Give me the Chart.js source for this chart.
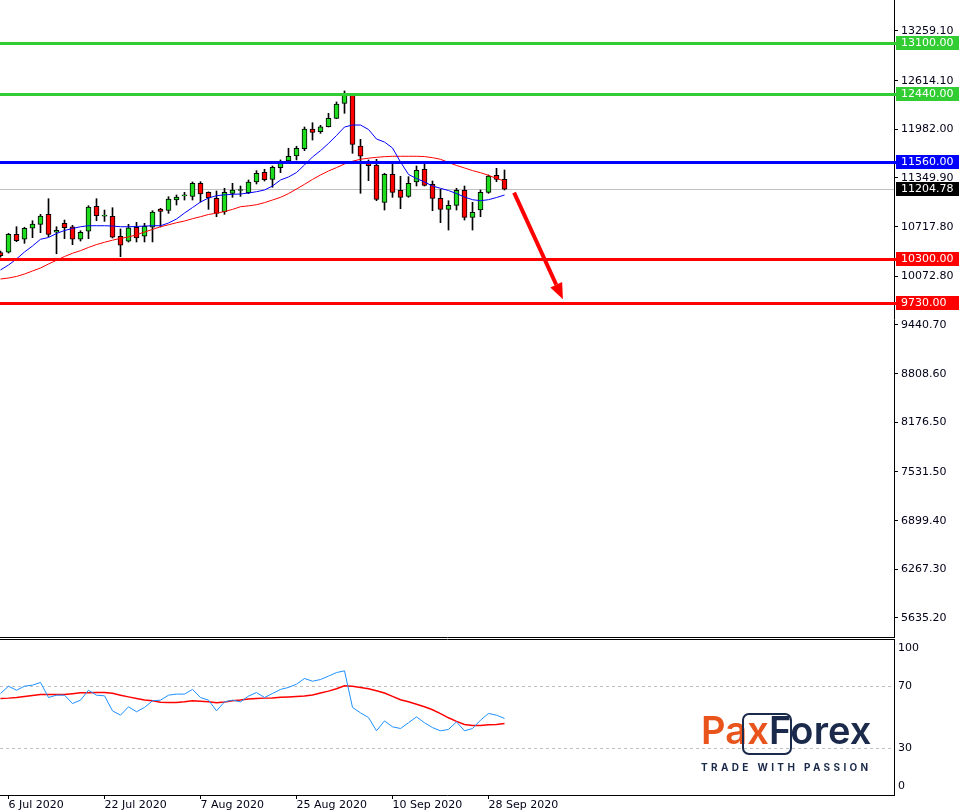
<!DOCTYPE html>
<html>
<head>
<meta charset="utf-8">
<script src="https://cdn.jsdelivr.net/npm/chart.js@4.4.0/dist/chart.umd.min.js"></script>
<style>
    body { margin: 0; background: #fff; }
    #wrap { position: relative; width: 961px; height: 812px; overflow: hidden; background: #fff; }
    #priceChart { position: absolute; left: 0; top: 0; }
    #rsiChart { position: absolute; left: 0; top: 639px; }
    #logo { position: absolute; left: 701px; top: 707px; color: #1b2a4a; font-family: Inter, sans-serif; }
    #logo .name { font-size: 38px; font-weight: 600; line-height: 46px; letter-spacing: 0.15px; white-space: nowrap; }
    #logo .pax { color: #e8541c; }
    #logo .tag { font-size: 10px; font-weight: 700; letter-spacing: 3.35px; line-height: 12px; margin-top: 8px; white-space: nowrap; }
    #logo .box { position: absolute; left: 41px; top: 6px; width: 46px; height: 38px; border: 2.5px solid #1b2a4a; border-radius: 7px; }
</style>
</head>
<body>
<div id="wrap">
    <canvas id="priceChart" width="961" height="638"></canvas>
    <canvas id="rsiChart" width="961" height="173"></canvas>
    <div id="logo">
        <div class="box"></div>
        <div class="name"><span class="pax">Pax</span>Forex</div>
        <div class="tag">TRADE WITH PASSION</div>
    </div>
</div>
<script>
// daily candles, 3 Jul - 30 Sep 2020
const opens = [10380, 10385, 10618, 10554, 10697, 10748, 10878, 10645, 10761, 10717, 10554, 10658, 10982, 10855, 10852, 10593,
    10528, 10710, 10593, 10710, 10947, 10930, 11064, 11118, 11112, 11281, 11164, 11086, 10912, 11151, 11188, 11159,
    11298, 11424, 11333, 11484, 11571, 11636, 11731, 11986, 11951, 12016, 12125, 12320, 12428, 11766, 11558, 11519,
    11034, 11398, 11190, 11112, 11298, 11463, 11268, 11086, 10943, 10995, 11190, 10839, 10934, 11164, 11385, 11333];
const highs = [10400, 10630, 10717, 10710, 10795, 10878, 11081, 10717, 10804, 10735, 10665, 10990, 11081, 10934, 10964, 10688,
    10748, 10774, 10761, 10925, 10956, 11107, 11129, 11164, 11298, 11302, 11170, 11181, 11216, 11281, 11246, 11324,
    11445, 11463, 11506, 11584, 11736, 11762, 12012, 12068, 12034, 12190, 12337, 12480, 12450, 11852, 11584, 11593,
    11411, 11549, 11372, 11367, 11506, 11558, 11311, 11203, 11055, 11216, 11246, 11034, 11194, 11389, 11476, 11454];
const lows = [10320, 10375, 10522, 10502, 10575, 10640, 10588, 10366, 10562, 10484, 10531, 10562, 10795, 10787, 10571, 10328,
    10518, 10519, 10519, 10519, 10714, 10891, 10999, 11064, 11064, 11038, 10943, 10847, 10878, 11099, 11112, 11146,
    11272, 11311, 11229, 11419, 11541, 11584, 11705, 11843, 11930, 12012, 12120, 12190, 11671, 11151, 11315, 11055,
    10934, 11099, 10951, 11099, 11246, 11246, 10925, 10770, 10674, 10934, 10804, 10674, 10847, 11151, 11302, 11194];
const closes = [10340, 10618, 10535, 10697, 10752, 10856, 10618, 10670, 10704, 10554, 10645, 10973, 10860, 10862, 10580, 10476,
    10704, 10571, 10722, 10908, 10917, 11077, 11103, 11126, 11281, 11142, 11090, 10891, 11164, 11194, 11192, 11298,
    11411, 11328, 11489, 11562, 11632, 11736, 11986, 11943, 12016, 12125, 12311, 12428, 11787, 11632, 11510, 11073,
    11398, 11164, 11099, 11281, 11450, 11255, 11086, 10943, 10995, 11190, 10839, 10904, 11164, 11376, 11333, 11204.78];

// moving averages on price
const maFast = [10155, 10220, 10298, 10389, 10467, 10554, 10577, 10629, 10668, 10694, 10717, 10730, 10730, 10730, 10726, 10717,
    10717, 10720, 10726, 10730, 10730, 10765, 10817, 10895, 10966, 11038, 11090, 11120, 11131, 11138, 11142, 11155,
    11172, 11194, 11246, 11324, 11363, 11421, 11519, 11623, 11705, 11799, 11902, 12012, 12038, 12038, 11980, 11856,
    11817, 11740, 11558, 11396, 11343, 11298, 11246, 11216, 11187, 11148, 11103, 11068, 11055, 11068, 11096, 11129];
const maSlow = [10038, 10051, 10071, 10103, 10142, 10181, 10233, 10281, 10330, 10372, 10406, 10448, 10485, 10515, 10542, 10566,
    10583, 10613, 10648, 10682, 10717, 10742, 10769, 10791, 10821, 10847, 10876, 10893, 10914, 10942, 10977, 10988,
    11003, 11030, 11064, 11099, 11147, 11207, 11268, 11331, 11389, 11441, 11485, 11532, 11568, 11593, 11607, 11618,
    11627, 11632, 11632, 11632, 11632, 11628, 11614, 11593, 11551, 11513, 11480, 11446, 11419, 11385, 11343, 11311];

// RSI and its signal line
const rsiValues = [65.5, 70.2, 67.6, 70.2, 70.9, 72.6, 62.9, 64.4, 64.4, 59.0, 61.2, 67.6, 64.4, 64.0, 54.3, 51.5,
    56.9, 53.7, 56.5, 60.8, 61.2, 64.4, 65.1, 65.1, 68.1, 62.9, 61.2, 54.3, 60.1, 61.2, 60.1, 63.8,
    66.1, 62.9, 65.5, 68.1, 69.4, 71.5, 75.2, 73.4, 74.5, 76.7, 79.0, 80.1, 56.5, 53.0, 50.0, 41.4,
    47.8, 44.0, 42.9, 46.6, 50.4, 46.6, 43.5, 41.4, 42.3, 47.2, 41.4, 42.9, 48.3, 52.6, 51.5, 49.4];
const rsiSignal = [62.3, 62.5, 62.9, 63.5, 64.2, 64.8, 64.8, 64.8, 64.8, 65.3, 65.9, 66.0, 66.1, 66.1, 65.6, 64.4,
    63.3, 62.3, 61.3, 60.8, 59.9, 59.7, 59.7, 60.1, 60.8, 60.5, 60.1, 59.5, 60.0, 60.8, 61.3, 62.0,
    62.2, 62.5, 62.6, 63.0, 63.3, 63.5, 63.8, 64.5, 65.8, 67.0, 68.6, 70.5, 70.1, 69.4, 68.5, 67.3,
    65.8, 63.6, 61.5, 60.1, 58.6, 56.9, 55.0, 52.5, 49.8, 47.5, 45.5, 44.8, 44.9, 45.4, 45.5, 46.1];

// axes
const priceTicks = [13259.10, 12614.10, 11982.00, 11349.90, 10717.80, 10072.80, 9440.70, 8808.60, 8176.50, 7531.50, 6899.40, 6267.30, 5635.20];
const dateTickIdx = [1, 13, 25, 37, 49, 61];
const dateLabels = ['6 Jul 2020', '22 Jul 2020', '7 Aug 2020', '25 Aug 2020', '10 Sep 2020', '28 Sep 2020'];
const rsiTickValues = [94.6, 70, 30, 5.4];
const rsiTickLabels = ['100', '70', '30', '0'];
const rsiLevels = [70, 30];

// horizontal levels and the forecast arrow
const levelValues = [13100, 12440, 11560, 10300, 9730];
const levelColors = ['#32CD32', '#32CD32', '#0000FF', '#FF0000', '#FF0000'];
const lastPrice = 11204.78;
const arrowFrom = [64.2, 11159];
const arrowTo = [70.3, 9774];

const xMin = -0.0625, xMax = 111.6875;
const priceMin = 5375.4, priceMax = 13661.7;
const axisFont = '11px "DejaVu Sans", sans-serif';

Chart.defaults.font.family = '"DejaVu Sans", sans-serif';
Chart.defaults.font.size = 11;
Chart.defaults.color = '#000';

function toXY(values) {
    return values.map((v, i) => ({ x: i, y: v }));
}

function fitRightAxis(scale) {
    scale.width = 67;
    scale.paddingTop = 0;
    scale.paddingBottom = 0;
}

function drawArrow(ctx, x1, y1, x2, y2) {
    const ang = Math.atan2(y2 - y1, x2 - x1);
    const head = 16, half = 6.5;
    const bx = x2 - head * Math.cos(ang), by = y2 - head * Math.sin(ang);
    ctx.save();
    ctx.strokeStyle = '#FF0000';
    ctx.fillStyle = '#FF0000';
    ctx.lineWidth = 4;
    ctx.beginPath();
    ctx.moveTo(x1, y1);
    ctx.lineTo(bx, by);
    ctx.stroke();
    ctx.beginPath();
    ctx.moveTo(x2, y2);
    ctx.lineTo(bx + half * Math.sin(ang), by - half * Math.cos(ang));
    ctx.lineTo(bx - half * Math.sin(ang), by + half * Math.cos(ang));
    ctx.closePath();
    ctx.fill();
    ctx.restore();
}

function priceBox(ctx, y, bg, text) {
    const yy = Math.round(y);
    ctx.fillStyle = bg;
    ctx.fillRect(896, yy - 7, 63, 14);
    ctx.fillStyle = '#fff';
    ctx.font = axisFont;
    ctx.textBaseline = 'middle';
    ctx.textAlign = 'left';
    ctx.fillText(text, 901, yy + 0.5);
}

const pricePlugin = {
    id: 'pricePlugin',
    beforeDatasetsDraw(chart) {
        const { ctx, chartArea, scales } = chart;
        const y = Math.round(scales.y.getPixelForValue(lastPrice)) + 0.5;
        ctx.save();
        ctx.strokeStyle = '#C0C0C0';
        ctx.lineWidth = 1;
        ctx.beginPath();
        ctx.moveTo(chartArea.left, y);
        ctx.lineTo(chartArea.right, y);
        ctx.stroke();
        ctx.restore();
    },
    afterDatasetsDraw(chart) {
        const { ctx, chartArea, scales } = chart;
        ctx.save();
        levelValues.forEach((v, i) => {
            const y = Math.round(scales.y.getPixelForValue(v)) + 0.5;
            ctx.strokeStyle = levelColors[i];
            ctx.lineWidth = 3;
            ctx.beginPath();
            ctx.moveTo(chartArea.left, y);
            ctx.lineTo(chartArea.right + 2, y);
            ctx.stroke();
        });
        ctx.restore();
        drawArrow(ctx,
            scales.x.getPixelForValue(arrowFrom[0]), scales.y.getPixelForValue(arrowFrom[1]),
            scales.x.getPixelForValue(arrowTo[0]), scales.y.getPixelForValue(arrowTo[1]));
    },
    afterDraw(chart) {
        const { ctx, chartArea, scales } = chart;
        ctx.save();
        levelValues.forEach((v, i) => {
            priceBox(ctx, scales.y.getPixelForValue(v), levelColors[i], v.toFixed(2));
        });
        priceBox(ctx, scales.y.getPixelForValue(lastPrice), '#000', lastPrice.toFixed(2));
        // bottom frame of the price window
        ctx.strokeStyle = '#000';
        ctx.lineWidth = 1;
        ctx.beginPath();
        ctx.moveTo(chartArea.left, chart.height - 0.5);
        ctx.lineTo(chartArea.right + 1, chart.height - 0.5);
        ctx.stroke();
        ctx.restore();
    }
};

const rsiFrame = {
    id: 'rsiFrame',
    afterDraw(chart) {
        const { ctx, chartArea } = chart;
        ctx.save();
        ctx.strokeStyle = '#000';
        ctx.lineWidth = 1;
        ctx.beginPath();
        ctx.moveTo(chartArea.left, 0.5);
        ctx.lineTo(chartArea.right + 1, 0.5);
        ctx.stroke();
        ctx.restore();
    }
};

function drawPriceChart() {
    const wickData = lows.map((l, i) => ({ x: i, y: [l, highs[i]] }));
    const bodyData = opens.map((o, i) => ({ x: i, y: [o, closes[i]] }));
    const bodyColors = opens.map((o, i) => closes[i] >= o ? '#1EDC1E' : '#FF0000');

    new Chart(document.getElementById('priceChart'), {
        type: 'bar',
        data: {
            datasets: [
                {
                    label: 'Wick',
                    data: wickData,
                    backgroundColor: '#000',
                    barThickness: 1,
                    grouped: false,
                    order: 4
                },
                {
                    label: 'Body',
                    data: bodyData,
                    backgroundColor: bodyColors,
                    borderColor: '#000',
                    borderWidth: 1,
                    borderSkipped: false,
                    barThickness: 5,
                    minBarLength: 1,
                    grouped: false,
                    order: 3
                },
                {
                    type: 'line',
                    label: 'MA fast',
                    data: toXY(maFast),
                    borderColor: '#0000FF',
                    borderWidth: 1,
                    pointRadius: 0,
                    order: 1
                },
                {
                    type: 'line',
                    label: 'MA slow',
                    data: toXY(maSlow),
                    borderColor: '#FF0000',
                    borderWidth: 1,
                    pointRadius: 0,
                    order: 2
                }
            ]
        },
        options: {
            responsive: false,
            animation: false,
            layout: { padding: 0 },
            plugins: {
                legend: { display: false },
                tooltip: { enabled: false }
            },
            scales: {
                x: {
                    type: 'linear',
                    min: xMin,
                    max: xMax,
                    offset: false,
                    display: false
                },
                y: {
                    position: 'right',
                    min: priceMin,
                    max: priceMax,
                    afterFit: fitRightAxis,
                    afterBuildTicks: (scale) => { scale.ticks = priceTicks.map(v => ({ value: v })); },
                    ticks: {
                        callback: (v) => v.toFixed(2),
                        padding: 3,
                        autoSkip: false,
                        color: '#000018'
                    },
                    grid: { drawOnChartArea: false, drawTicks: true, tickLength: 4, color: '#000' },
                    border: { display: true, color: '#000' }
                }
            }
        },
        plugins: [pricePlugin]
    });
}

function drawRsiChart() {
    new Chart(document.getElementById('rsiChart'), {
        type: 'line',
        data: {
            datasets: [
                {
                    label: 'RSI',
                    data: toXY(rsiValues),
                    borderColor: '#1E90FF',
                    borderWidth: 1,
                    pointRadius: 0
                },
                {
                    label: 'Signal',
                    data: toXY(rsiSignal),
                    borderColor: '#FF0000',
                    borderWidth: 1.5,
                    pointRadius: 0
                }
            ]
        },
        options: {
            responsive: false,
            animation: false,
            layout: { padding: { top: 1 } },
            plugins: {
                legend: { display: false },
                tooltip: { enabled: false }
            },
            scales: {
                x: {
                    type: 'linear',
                    min: xMin,
                    max: xMax,
                    offset: false,
                    afterFit: (scale) => { scale.height = 17; scale.paddingLeft = 0; scale.paddingRight = 0; },
                    afterBuildTicks: (scale) => { scale.ticks = dateTickIdx.map(v => ({ value: v })); },
                    ticks: {
                        callback: (v, i) => dateLabels[i],
                        align: 'start',
                        padding: 0,
                        maxRotation: 0,
                        autoSkip: false,
                        color: '#000018'
                    },
                    grid: { drawOnChartArea: false, tickLength: 4, color: '#000' },
                    border: { display: true, color: '#000' }
                },
                y: {
                    position: 'right',
                    min: 0,
                    max: 100,
                    afterFit: fitRightAxis,
                    afterBuildTicks: (scale) => { scale.ticks = rsiTickValues.map(v => ({ value: v })); },
                    ticks: {
                        callback: (v, i) => rsiTickLabels[i],
                        padding: 4,
                        autoSkip: false,
                        color: '#000018'
                    },
                    grid: {
                        drawTicks: false,
                        color: (ctx) => (ctx.tick && rsiLevels.includes(ctx.tick.value)) ? '#C0C0C0' : 'rgba(0,0,0,0)'
                    },
                    border: { display: true, color: '#000', dash: [3, 3] }
                }
            }
        },
        plugins: [rsiFrame]
    });
}

drawPriceChart();
drawRsiChart();
</script>
</body>
</html>
